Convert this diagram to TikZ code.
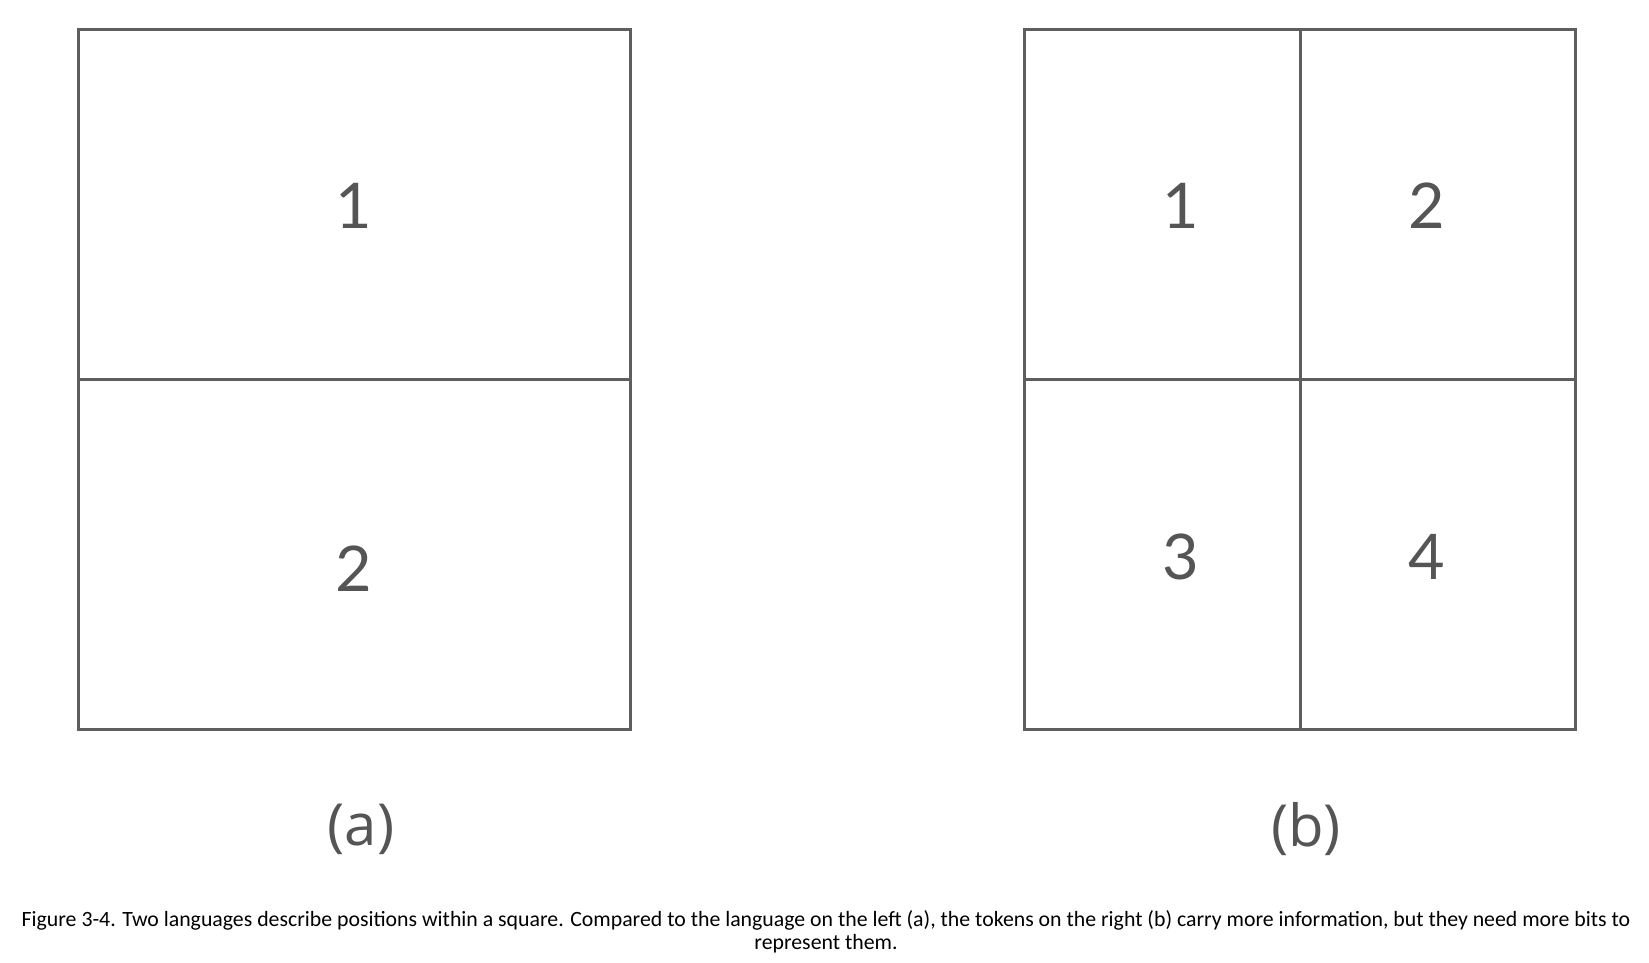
\documentclass[tikz,border=0pt]{standalone}
\usepackage{fontspec}
\setmainfont{Open Sans}
\newfontfamily\capfont{Carlito}
\newfontfamily\digitfont{Lato}
\definecolor{linegray}{HTML}{5E5E5E}
\definecolor{textgray}{HTML}{555555}
\begin{document}
\begin{tikzpicture}[x=1pt,y=-1pt,
  frame/.style={draw=linegray,line width=3pt},
  digit/.style={text=textgray,font=\digitfont\fontsize{63}{63}\selectfont,inner sep=0pt,anchor=center},
  sublabel/.style={text=textgray,font=\fontsize{58}{58}\selectfont,inner sep=0pt},
  captext/.style={font=\capfont\fontsize{21.8}{24}\selectfont,text=black,inner sep=0pt,align=center}]
\useasboundingbox[fill=white] (0,0) rectangle (1649,962);
% left square
\draw[frame] (78.5,29.3) rectangle (630,729.5);
\draw[frame] (78.5,379.3) -- (630,379.3);
\node[digit] (a1) at (354,206) {1};
\node[digit] (a2) at (354,569) {2};
\node[sublabel] (la) at (361,829) {(a)};
% right square
\draw[frame] (1024.5,29.3) rectangle (1575.5,729.5);
\draw[frame] (1024.5,379.3) -- (1575.5,379.3);
\draw[frame] (1300,29.3) -- (1300,729.5);
\node[digit] (b1) at (1181,206) {1};
\node[digit] (b2) at (1427,206) {2};
\node[digit] (b3) at (1181,557) {3};
\node[digit] (b4) at (1427,557) {4};
\node[sublabel] (lb) at (1306,829) {(b)};
% caption
\node[captext] (cap1) at (826,920) {Figure 3-4. Two languages describe positions within a square. Compared to the language on the left (a), the tokens on the right (b) carry more information, but they need more bits to};
\node[captext] (cap2) at (826,944) {represent them.};
\end{tikzpicture}
\end{document}
